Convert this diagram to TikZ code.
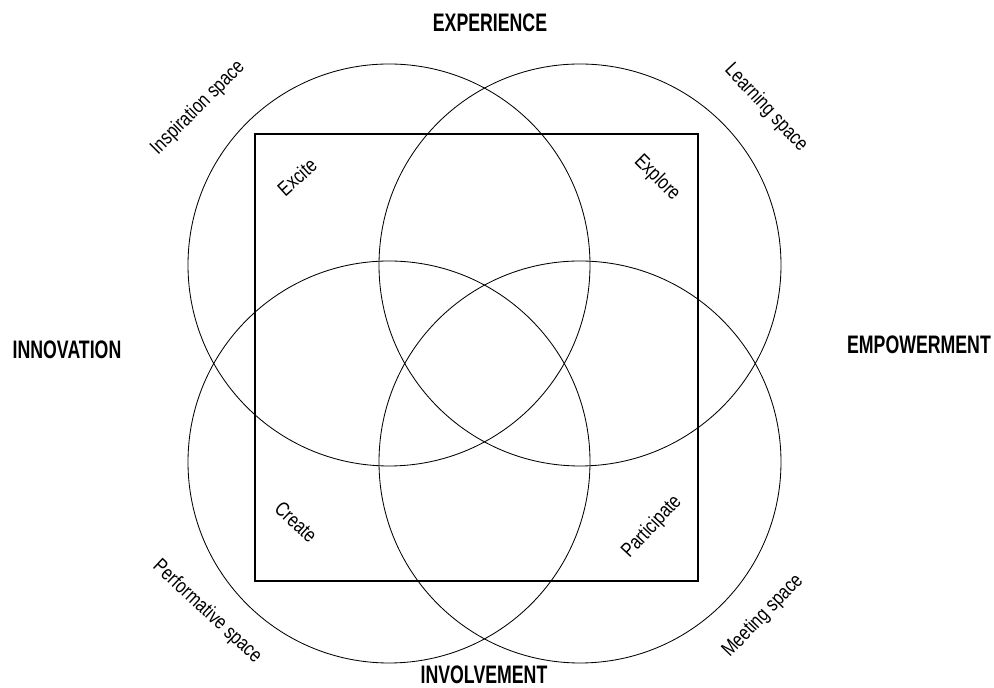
\documentclass[tikz,border=0pt]{standalone}
\usepackage{fontspec}
\newfontfamily\headfont[FakeStretch=0.7]{Liberation Sans}
\newfontfamily\spacefont[FakeStretch=0.8]{Liberation Sans}
\tikzset{
  ambito/.style={font=\headfont\bfseries\fontsize{18}{20}\selectfont, inner sep=0pt},
  spazio/.style={font=\spacefont\fontsize{14.5}{16}\selectfont, inner sep=0pt},
  cerchio/.style={line width=0.6pt},
  quadro/.style={line width=1pt}
}
\begin{document}
\begin{tikzpicture}[x=0.025cm, y=0.025cm]
    \useasboundingbox (0,0) rectangle (994,688);

    % Cerchi
    \draw[cerchio] (389,423) circle (201);
    \draw[cerchio] (580,423) circle (201);
    \draw[cerchio] (389,226) circle (201);
    \draw[cerchio] (580,226) circle (201);

    % Quadrato
    \draw[quadro] (255,107) rectangle (698,554);

    % Ambiti
    \node[ambito] (experience) at (490,665) {EXPERIENCE};
    \node[ambito] (innovation) at (67,338) {INNOVATION};
    \node[ambito] (empowerment) at (919,343) {EMPOWERMENT};
    \node[ambito] (involvement) at (484,13) {INVOLVEMENT};

    % Spazi
    \node[spazio, rotate=45] (inspiration) at (198,580) {Inspiration space};
    \node[spazio, rotate=-47] (learning) at (766,580) {Learning space};
    \node[spazio, rotate=-43] (performative) at (207,76) {Performative space};
    \node[spazio, rotate=46] (meeting) at (763,72) {Meeting space};

    % Azioni
    \node[spazio, rotate=42] (excite) at (297,511) {Excite};
    \node[spazio, rotate=-45] (explore) at (657,510) {Explore};
    \node[spazio, rotate=-43] (create) at (296,166) {Create};
    \node[spazio, rotate=47] (participate) at (652,161) {Participate};
\end{tikzpicture}
\end{document}
